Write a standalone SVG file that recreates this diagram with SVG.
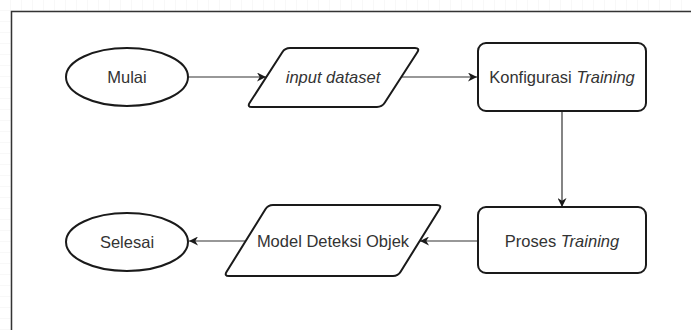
<svg xmlns="http://www.w3.org/2000/svg" width="691" height="330" viewBox="0 0 691 330">
  <style>
    .shape { fill: #ffffff; stroke: #1a1a1a; stroke-width: 2; stroke-linejoin: round; }
    .lbl { font-family: "Liberation Sans", Arial, sans-serif; font-size: 16.5px; fill: #333333; text-anchor: middle; dominant-baseline: central; }
    .it { font-style: italic; }
    .conn { fill: none; stroke: #333333; stroke-width: 1.2; marker-end: url(#arrow); }
  </style>
  <defs>
    <pattern id="grid" width="11" height="11" patternUnits="userSpaceOnUse">
      <path d="M11,0 V11 M0,11 H11" fill="none" stroke="#f1f1f1" stroke-width="1"/>
    </pattern>
    <marker id="arrow" viewBox="0 0 10 10" refX="10" refY="5" markerWidth="9" markerHeight="9" markerUnits="userSpaceOnUse" orient="auto">
      <path d="M0,0 L10,5 L0,10 L3,5 Z" fill="#1a1a1a"/>
    </marker>
  </defs>
  <rect x="0" y="0" width="691" height="330" fill="#ffffff"/>
  <rect x="0" y="0" width="691" height="330" fill="url(#grid)"/>
  <rect x="11" y="11" width="680" height="319" fill="#ffffff"/>
  <path d="M11.5,330 V11.5 H691" fill="none" stroke="#333333" stroke-width="1.5"/>

  <g id="connectors">
    <path class="conn" d="M188,77 H266"/>
    <path class="conn" d="M401,77 H477"/>
    <path class="conn" d="M562,111 V207"/>
    <path class="conn" d="M477,241 H420"/>
    <path class="conn" d="M246,241 H189"/>
  </g>

  <g id="mulai">
    <ellipse class="shape" cx="127" cy="77" rx="61" ry="29"/>
    <text class="lbl" x="127" y="77">Mulai</text>
  </g>
  <g id="input-dataset">
    <path class="shape" d="M290,48 H415 Q420,48 417.3,52.2 L384.7,102.8 Q382,107 377,107 H252 Q247,107 249.7,102.8 L282.3,52.2 Q285,48 290,48 Z"/>
    <text class="lbl it" x="333" y="77">input dataset</text>
  </g>
  <g id="konfigurasi">
    <rect class="shape" x="478" y="43" width="168" height="68" rx="8"/>
    <text class="lbl" x="562" y="77">Konfigurasi <tspan class="it">Training</tspan></text>
  </g>
  <g id="proses">
    <rect class="shape" x="478" y="207" width="168" height="66" rx="8"/>
    <text class="lbl" x="562" y="241">Proses <tspan class="it">Training</tspan></text>
  </g>
  <g id="model">
    <path class="shape" d="M273,205 H437 Q442,205 439.4,209.25 L400.6,271.75 Q398,276 393,276 H229 Q224,276 226.6,271.75 L265.4,209.25 Q268,205 273,205 Z"/>
    <text class="lbl" x="333" y="241">Model Deteksi Objek</text>
  </g>
  <g id="selesai">
    <ellipse class="shape" cx="127" cy="242" rx="61" ry="29"/>
    <text class="lbl" x="127" y="242">Selesai</text>
  </g>
</svg>
